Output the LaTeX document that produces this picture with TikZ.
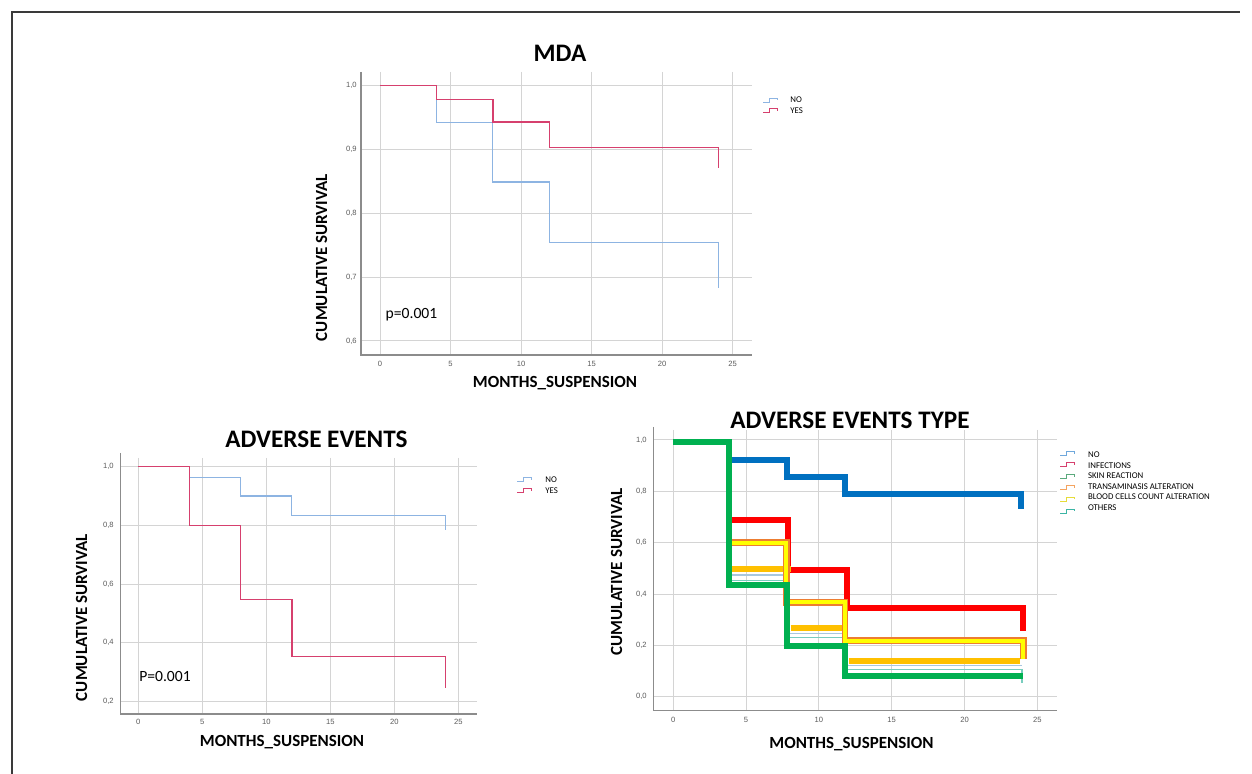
\documentclass[tikz,border=0pt]{standalone}
\usepackage{fontspec}
\setmainfont{Carlito}
\newfontfamily\tickfont{Liberation Sans}
\definecolor{gridgray}{HTML}{D4D4D4}
\definecolor{axisgray}{HTML}{8C8C8C}
\definecolor{tickgray}{HTML}{5A5A5A}
\definecolor{framegray}{HTML}{3A3A3A}
\definecolor{kmblue}{HTML}{8DB4E2}
\definecolor{kmred}{HTML}{D6406E}
\definecolor{aetblue}{HTML}{0070C0}
\definecolor{aetred}{HTML}{FF0000}
\definecolor{aetgreen}{HTML}{00B050}
\definecolor{amber}{HTML}{FFC000}
\definecolor{yel}{HTML}{FFFF00}
\definecolor{orng}{HTML}{ED7D31}
\definecolor{thinA}{HTML}{A9C7DE}
\definecolor{thinB}{HTML}{79CDBE}
\definecolor{legNO}{HTML}{6FA8DC}
\definecolor{legINF}{HTML}{D6406E}
\definecolor{legSKIN}{HTML}{5BAA7D}
\definecolor{legTRANS}{HTML}{F4A460}
\definecolor{legBLOOD}{HTML}{E6DC3A}
\definecolor{legOTH}{HTML}{3CB5A5}
\tikzset{
  gridln/.style={draw=gridgray, line width=0.5pt},
  axisln/.style={draw=axisgray, line width=0.6pt},
  ticklab/.style={font=\tickfont\fontsize{3.8}{4}\selectfont, text=tickgray, inner sep=0pt},
  ttl/.style={font=\bfseries\fontsize{12.6}{14}\selectfont, inner sep=0pt},
  axlab/.style={font=\bfseries\fontsize{8.5}{10}\selectfont, inner sep=0pt},
  pval/.style={font=\fontsize{7.8}{9}\selectfont, inner sep=0pt},
  leg/.style={font=\fontsize{4.4}{5}\selectfont, inner sep=0pt, anchor=west},
  kmthin/.style={line width=0.55pt, line join=miter},
  kmthick/.style={line width=3pt, line join=miter, line cap=butt},
  legsym/.style={line width=0.45pt},
}
\newcommand\legmark[3]{\draw[legsym,#3] (#1,#2+2) -- ++(6,0) -- ++(0,-4) -- ++(8,0) -- ++(0,2.5);}
\begin{document}
\begin{tikzpicture}[x=0.5pt,y=-0.5pt]
\useasboundingbox (0,0) rectangle (1252,774);
% frame
\draw[framegray, line width=0.8pt] (12,774) -- (12,12) -- (1240,12);

% ================= MDA =================
\foreach \t in {0,5,...,25} { \draw[gridln] ({380+14.1*\t},72) -- ({380+14.1*\t},355); }
\foreach \v in {0.6,0.7,0.8,0.9,1.0} { \draw[gridln] (361,{723.7-638*\v}) -- (752,{723.7-638*\v}); }
\draw[axisln] (361,72) -- (361,355) -- (752,355);
\foreach \t in {0,5,...,25} { \node[ticklab] (mx\t) at ({380+14.1*\t},363.5) {\t}; }
\foreach \v/\l in {0.6/{0,6},0.7/{0,7},0.8/{0,8},0.9/{0,9},1.0/{1,0}} { \node[ticklab, anchor=east] (my\l) at (357,{723.7-638*\v}) {\l}; }
\begin{scope}[shift={(380,723.7)}, xscale=14.1, yscale=-638]
  \draw[kmthin, kmblue] (0,1) -- (4,1) -- (4,0.9426) -- (8,0.9426) -- (8,0.849) -- (12,0.849) -- (12,0.7546) -- (24,0.7546) -- (24,0.6825);
  \draw[kmthin, kmred, line width=0.7pt] (0,1) -- (4,1) -- (4,0.9787) -- (8,0.9787) -- (8,0.943) -- (12,0.943) -- (12,0.903) -- (24,0.903) -- (24,0.8705);
\end{scope}
\node[ttl] (mdatitle) at (560,53) {MDA};
\node[axlab] (mdax) at (555,383) {MONTHS\_SUSPENSION};
\node[axlab, rotate=90] (mday) at (321.7,257.5) {CUMULATIVE SURVIVAL};
\node[pval] (mdap) at (411.5,315) {p=0.001};
\legmark{763}{100}{kmblue}
\legmark{763}{110.5}{kmred}
\node[leg] (mdano) at (790,100) {NO};
\node[leg] (mdayes) at (790,110.5) {YES};

% ================= ADVERSE EVENTS =================
\foreach \t in {0,5,...,25} { \draw[gridln] ({138.3+12.8*\t},458) -- ({138.3+12.8*\t},714); }
\foreach \v in {0.2,0.4,0.6,0.8,1.0} { \draw[gridln] (120.7,{760-293.3*\v}) -- (476.7,{760-293.3*\v}); }
\draw[axisln] (120.7,453) -- (120.7,714) -- (476.7,714);
\foreach \t in {0,5,...,25} { \node[ticklab] (ax\t) at ({138.3+12.8*\t},722) {\t}; }
\foreach \v/\l in {0.2/{0,2},0.4/{0,4},0.6/{0,6},0.8/{0,8},1.0/{1,0}} { \node[ticklab, anchor=east] (ay\l) at (114,{760-293.3*\v}) {\l}; }
\begin{scope}[shift={(138.3,760)}, xscale=12.8, yscale=-293.3]
  \draw[kmthin, kmblue] (0,1) -- (4,1) -- (4,0.962) -- (8,0.962) -- (8,0.9) -- (12,0.9) -- (12,0.835) -- (24,0.835) -- (24,0.784);
  \draw[kmthin, kmred, line width=0.7pt] (0,1) -- (4,1) -- (4,0.8) -- (8,0.8) -- (8,0.548) -- (12,0.548) -- (12,0.352) -- (24,0.352) -- (24,0.245);
\end{scope}
\node[ttl] (aetitle) at (316.5,439) {ADVERSE EVENTS};
\node[axlab] (aex) at (282,741.7) {MONTHS\_SUSPENSION};
\node[axlab, rotate=90] (aey) at (81.7,617.5) {CUMULATIVE SURVIVAL};
\node[pval] (aep) at (165,676) {P=0.001};
\legmark{517}{479.5}{kmblue}
\legmark{517}{490.5}{kmred}
\node[leg] (aeno) at (545,480) {NO};
\node[leg] (aeyes) at (545,490.7) {YES};

% ================= ADVERSE EVENTS TYPE =================
\foreach \t in {0,5,...,25} { \draw[gridln] ({673.3+14.56*\t},430) -- ({673.3+14.56*\t},710.7); }
\foreach \v in {0.0,0.2,0.4,0.6,0.8,1.0} { \draw[gridln] (653.3,{696.7-256.7*\v}) -- (1056.7,{696.7-256.7*\v}); }
\draw[axisln] (653.3,427) -- (653.3,710.7) -- (1056.7,710.7);
\foreach \t in {0,5,...,25} { \node[ticklab] (tx\t) at ({673.3+14.56*\t},719.5) {\t}; }
\foreach \v/\l in {0.0/{0,0},0.2/{0,2},0.4/{0,4},0.6/{0,6},0.8/{0,8},1.0/{1,0}} { \node[ticklab, anchor=east] (ty\l) at (647,{696.7-256.7*\v}) {\l}; }
\begin{scope}[shift={(673.3,696.7)}, xscale=14.56, yscale=-256.7]
  % thin lines
  \draw[thinA, line width=0.6pt] (4,0.474) -- (7.8,0.474);
  \draw[thinB, line width=0.6pt] (4,0.454) -- (7.8,0.454);
  \draw[thinA, line width=0.6pt] (7.8,0.247) -- (11.76,0.247);
  \draw[thinB, line width=0.6pt] (7.8,0.231) -- (11.76,0.231);
  \draw[thinA, line width=0.6pt] (11.76,0.123) -- (23.95,0.123);
  \draw[thinB, line width=0.6pt] (11.76,0.107) -- (23.95,0.107) -- (23.95,0.053);
  % NO (blue)
  \draw[kmthick, aetblue] (4,0.922) -- (7.81,0.922) -- (7.81,0.857) -- (11.76,0.857) -- (11.76,0.79) -- (23.88,0.79) -- (23.88,0.73);
  % INFECTIONS (red)
  \draw[kmthick, aetred] (4,0.688) -- (7.85,0.688) -- (7.85,0.494) -- (11.96,0.494) -- (11.96,0.344) -- (24.0,0.344) -- (24.0,0.255);
  % amber
  \draw[kmthick, amber] (4,0.497) -- (8.05,0.497);
  \draw[kmthick, amber] (8.05,0.269) -- (11.6,0.269);
  \draw[kmthick, amber] (12.05,0.139) -- (23.8,0.139);
  % yellow with orange edge
  \draw[line width=3.3pt, line join=miter, orng] (4,0.6) -- (7.77,0.6) -- (7.77,0.368) -- (11.8,0.368) -- (11.8,0.218) -- (24.05,0.218) -- (24.05,0.147);
  \draw[line width=2pt, line join=miter, yel] (4,0.6) -- (7.77,0.6) -- (7.77,0.368) -- (11.8,0.368) -- (11.8,0.218) -- (24.05,0.218) -- (24.05,0.147);
  % SKIN REACTION (green)
  \draw[kmthick, aetgreen] (0,0.992) -- (3.82,0.992) -- (3.82,0.435) -- (7.81,0.435) -- (7.81,0.197) -- (11.76,0.197) -- (11.76,0.08) -- (24.0,0.08);
\end{scope}
\node[ttl] (aettitle) at (850,420) {ADVERSE EVENTS TYPE};
\node[axlab] (aetx) at (851.5,744) {MONTHS\_SUSPENSION};
\node[axlab, rotate=90] (aety) at (616.7,571.7) {CUMULATIVE SURVIVAL};
\legmark{1060}{453.5}{legNO}
\legmark{1060}{464.5}{legINF}
\legmark{1060}{476.5}{legSKIN}
\legmark{1060}{487.5}{legTRANS}
\legmark{1060}{499}{legBLOOD}
\legmark{1060}{511}{legOTH}
\node[leg] (l1) at (1087.7,455) {NO};
\node[leg] (l2) at (1087.7,465.7) {INFECTIONS};
\node[leg] (l3) at (1087.7,476) {SKIN REACTION};
\node[leg] (l4) at (1087.7,486.3) {TRANSAMINASIS ALTERATION};
\node[leg] (l5) at (1087.7,497) {BLOOD CELLS COUNT ALTERATION};
\node[leg] (l6) at (1087.7,507.3) {OTHERS};
\end{tikzpicture}
\end{document}
